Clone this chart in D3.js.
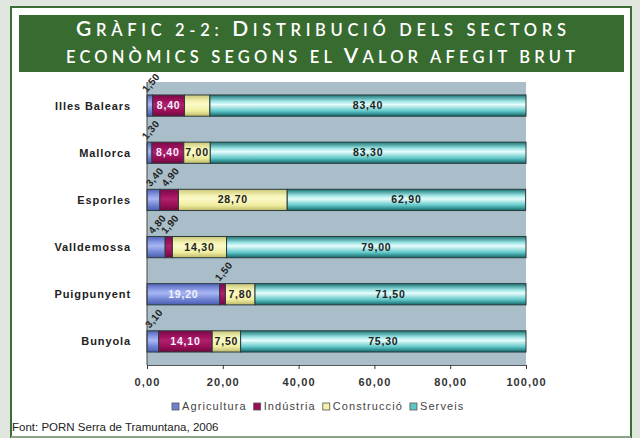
<!DOCTYPE html>
<html>
<head>
<meta charset="utf-8">
<script src="https://cdn.jsdelivr.net/npm/d3@7"></script>
<style>
  html, body { margin: 0; padding: 0; background: #e1e7df; }
  svg { display: block; }
</style>
</head>
<body>
<div id="chart"></div>
<script>
// categories and series values (% of VAB)
const categories = ['Illes Balears', 'Mallorca', 'Esporles', 'Valldemossa', 'Puigpunyent', 'Bunyola'];
const agricultura = [1.5, 1.3, 3.4, 4.8, 19.2, 3.1];
const industria = [8.4, 8.4, 4.9, 1.9, 1.5, 14.1];
const construccio = [6.7, 7.0, 28.7, 14.3, 7.8, 7.5];
const serveis = [83.4, 83.3, 62.9, 79.0, 71.5, 75.3];
const seriesNames = ['Agricultura', 'Indústria', 'Construcció', 'Serveis'];
const xTicks = [0, 20, 40, 60, 80, 100];

const width = 640, height = 438;
const plot = { left: 147, right: 526, top: 82, bottom: 365 };

const fmt = d => d3.format('.2f')(d).replace('.', ',');

const rows = categories.map((c, i) => ({
  cat: c,
  Agricultura: agricultura[i],
  'Indústria': industria[i],
  'Construcció': construccio[i],
  Serveis: serveis[i]
}));

const svg = d3.select('#chart').append('svg')
  .attr('width', width).attr('height', height);

// gradients for the bar fills
const defs = svg.append('defs');
const grads = {
  Agricultura: ['#4f62b8', '#8f9fe8', '#a8b6f2', '#6f82d2', '#4a5cb0'],
  'Indústria': ['#7a0a48', '#a3125f', '#b0206c', '#9a0e58', '#70083f'],
  'Construcció': ['#c9c67a', '#f6f4b4', '#fbf9c8', '#efed9f', '#bdb96b'],
  Serveis: ['#1a7475', '#9fe6e6', '#e8fcfc', '#62c9ca', '#13676a']
};
const slug = s => s.normalize('NFD').replace(/[^A-Za-z]/g, '');
seriesNames.forEach(s => {
  const g = defs.append('linearGradient').attr('id', 'g' + slug(s))
    .attr('x1', 0).attr('y1', 0).attr('x2', 0).attr('y2', 1);
  [0, 0.3, 0.45, 0.75, 1].forEach((o, i) => {
    g.append('stop').attr('offset', o).attr('stop-color', grads[s][i]);
  });
});
const legendColor = {
  Agricultura: '#6f82d2', 'Indústria': '#9a0e58', 'Construcció': '#f3f1a8', Serveis: '#5fc6c6'
};

// white panel with green frame
svg.append('rect').attr('x', 11).attr('y', 7).attr('width', 620).attr('height', 430)
  .attr('fill', '#fff').attr('stroke', '#3b6e33').attr('stroke-width', 2);
svg.append('line').attr('x1', 11).attr('x2', 631).attr('y1', 437).attr('y2', 437)
  .attr('stroke', '#a6b6a2').attr('stroke-width', 1.5);

// title band
svg.append('rect').attr('x', 19).attr('y', 15).attr('width', 605).attr('height', 57)
  .attr('fill', '#386b2f');

function smallCaps(textSel, str, big, small) {
  for (const ch of str) {
    const isUp = ch !== ch.toLowerCase();
    textSel.append('tspan').attr('font-size', isUp ? big : small).text(ch.toUpperCase());
  }
}
const titleLines = ['Gràfic 2-2: Distribució dels sectors', 'econòmics segons el Valor afegit brut'];
const titleX = [[76, 566], [66, 575]];
titleLines.forEach((t, i) => {
  const tx = svg.append('text')
    .attr('x', titleX[i][0]).attr('y', 36 + i * 27)
    .attr('fill', '#fff')
    .attr('font-family', 'Lato, "Open Sans", sans-serif')
    .attr('font-weight', 600)
    .attr('textLength', titleX[i][1] - titleX[i][0])
    .attr('lengthAdjust', 'spacing')
    .attr('xml:space', 'preserve');
  smallCaps(tx, t, 21, 16.5);
});

// scales
const x = d3.scaleLinear().domain([0, 100]).range([plot.left, plot.right]);
const y = d3.scaleBand().domain(categories).range([plot.top, plot.bottom])
  .paddingInner(0.55).paddingOuter(0.275);

// plot background
svg.append('rect').attr('x', plot.left).attr('y', plot.top)
  .attr('width', plot.right - plot.left).attr('height', plot.bottom - plot.top)
  .attr('fill', '#a9bec8');

const stacked = d3.stack().keys(seriesNames)(rows);

const layers = svg.append('g').selectAll('g').data(stacked).join('g')
  .attr('fill', d => `url(#g${slug(d.key)})`);

layers.selectAll('rect').data(d => d).join('rect')
  .attr('x', d => x(d[0]))
  .attr('y', d => y(d.data.cat))
  .attr('width', d => x(d[1]) - x(d[0]))
  .attr('height', y.bandwidth())
  .attr('stroke', '#2c3b3c').attr('stroke-width', 1);

// value labels
const labelFont = '"Liberation Sans Narrow", "Liberation Sans", Arial, sans-serif';
stacked.forEach(layer => {
  layer.forEach(d => {
    const v = d[1] - d[0];
    const cx = x((d[0] + d[1]) / 2);
    const cy = y(d.data.cat) + y.bandwidth() / 2;
    if (v >= 7) {
      const white = layer.key === 'Agricultura' || layer.key === 'Indústria';
      svg.append('text')
        .attr('x', cx).attr('y', cy + 3.5)
        .attr('text-anchor', 'middle')
        .attr('font-family', labelFont).attr('font-size', 10.5).attr('font-weight', 'bold')
        .attr('letter-spacing', 0.8)
        .attr('fill', white ? '#f2f2ff' : '#222')
        .text(fmt(v));
    } else if (v < 5) {
      const by = y(d.data.cat) - 2;
      svg.append('text')
        .attr('transform', `translate(${cx - 3},${by}) rotate(-50)`)
        .attr('font-family', labelFont).attr('font-size', 10).attr('font-weight', 'bold')
        .attr('letter-spacing', 0.4)
        .attr('fill', '#222')
        .text(fmt(v));
    }
  });
});

// left axis line
svg.append('line').attr('x1', plot.left).attr('x2', plot.left)
  .attr('y1', plot.top).attr('y2', plot.bottom)
  .attr('stroke', '#444').attr('stroke-width', 1);

// category labels
svg.append('g').selectAll('text').data(categories).join('text')
  .attr('x', 131)
  .attr('y', d => y(d) + y.bandwidth() / 2 + 4)
  .attr('text-anchor', 'end')
  .attr('font-family', 'Arial, "Liberation Sans", sans-serif')
  .attr('font-size', 11).attr('font-weight', 'bold')
  .attr('letter-spacing', 0.9)
  .attr('fill', '#222')
  .text(d => d);

// x axis
const xAxis = svg.append('g')
  .attr('transform', `translate(0,${plot.bottom})`)
  .call(d3.axisBottom(x).tickValues(xTicks).tickSize(4).tickSizeOuter(0).tickFormat(fmt));
xAxis.select('.domain').attr('stroke', '#555');
xAxis.selectAll('.tick line').attr('stroke', '#333');
xAxis.selectAll('.tick text')
  .attr('y', 13)
  .attr('font-family', 'Arial, "Liberation Sans", sans-serif')
  .attr('font-size', 11).attr('font-weight', 'bold').attr('fill', '#333')
  .attr('letter-spacing', 1.1);

// legend
const legend = svg.append('g').attr('transform', 'translate(172,410)');
let lx = 0;
seriesNames.forEach(s => {
  const g = legend.append('g').attr('transform', `translate(${lx},0)`);
  g.append('rect').attr('x', 0).attr('y', -7).attr('width', 7).attr('height', 7)
    .attr('fill', legendColor[s]).attr('stroke', '#555').attr('stroke-width', 0.8);
  const t = g.append('text').attr('x', 10).attr('y', 0)
    .attr('font-family', 'Arial, "Liberation Sans", sans-serif')
    .attr('font-size', 11).attr('letter-spacing', 1.1)
    .attr('fill', '#444').text(s);
  lx += 10 + t.node().getComputedTextLength() + 7;
});

// source
svg.append('text').attr('x', 12).attr('y', 431)
  .attr('font-family', 'Arial, "Liberation Sans", sans-serif')
  .attr('font-size', 11.5).attr('fill', '#222')
  .text('Font: PORN Serra de Tramuntana, 2006');
</script>
</body>
</html>
